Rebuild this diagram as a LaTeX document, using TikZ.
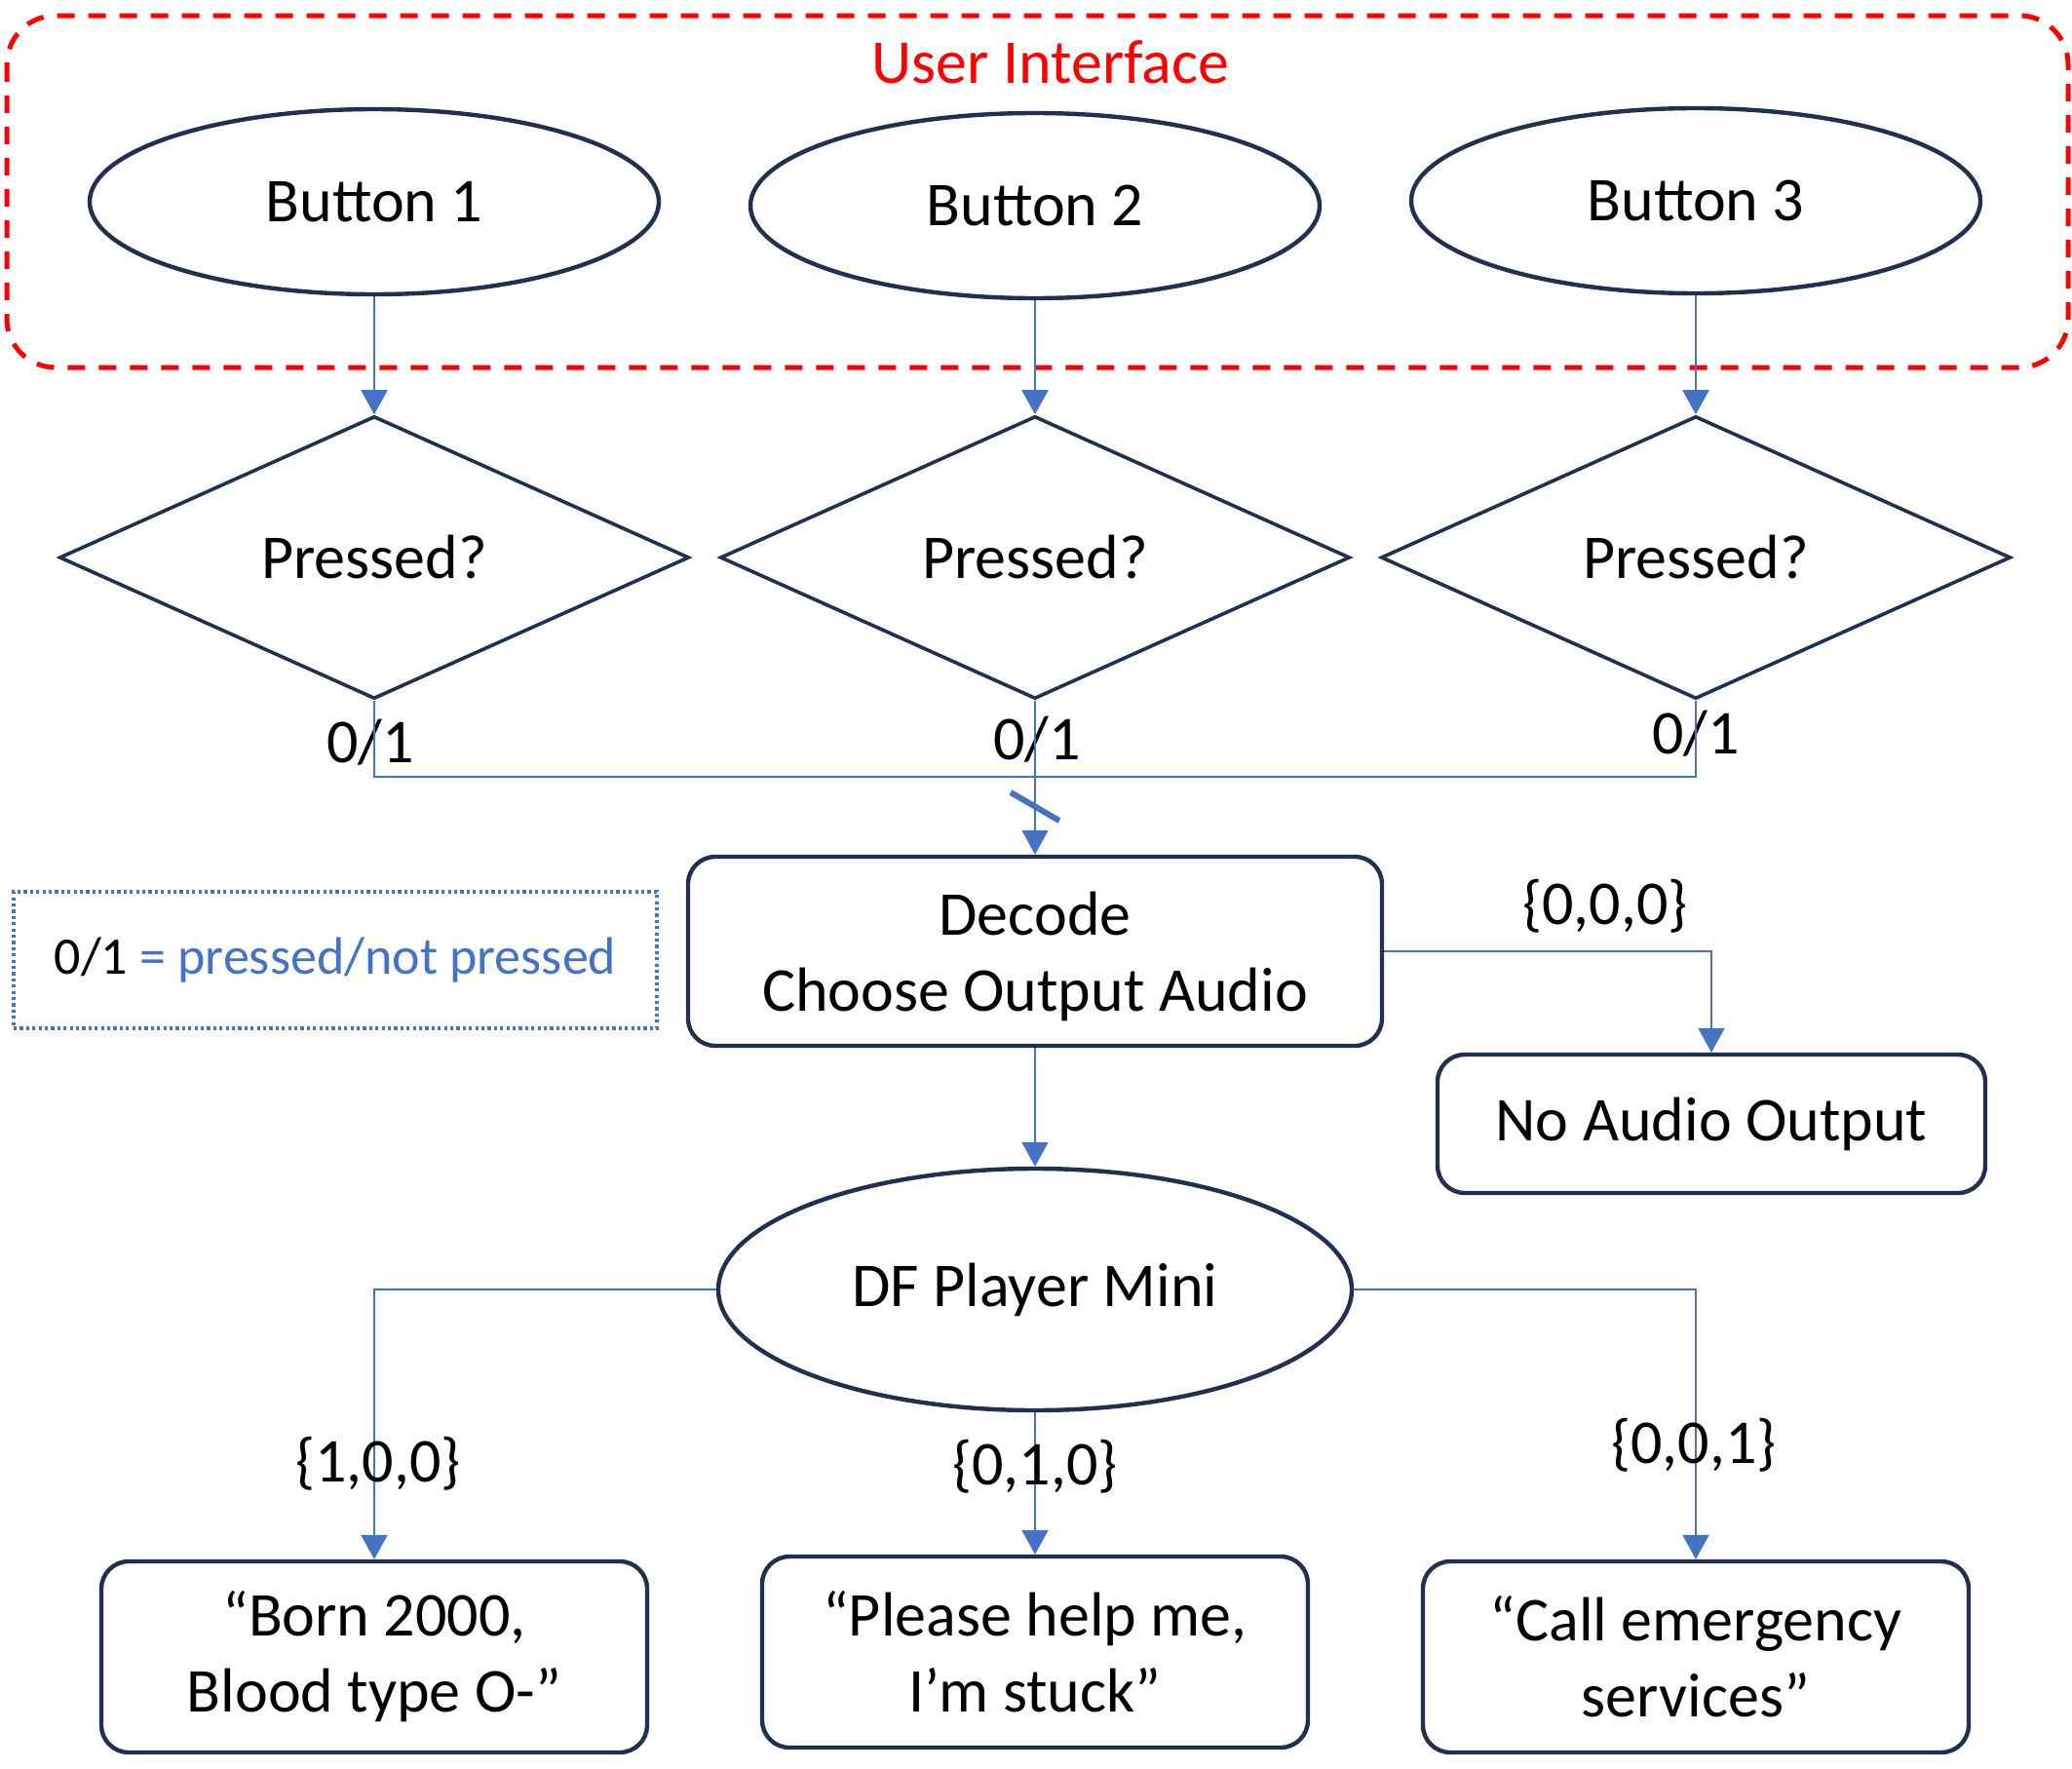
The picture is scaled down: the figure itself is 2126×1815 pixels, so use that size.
\documentclass[tikz,border=0pt]{standalone}
\usepackage{fontspec}
\setmainfont{Carlito}
\usetikzlibrary{shapes.geometric,arrows.meta}
\definecolor{navy}{HTML}{203050}
\definecolor{cblue}{HTML}{4472C4}
\definecolor{cred}{HTML}{FF0000}
\begin{document}
\begin{tikzpicture}[x=0.5pt,y=-0.5pt,
  txt/.style={font=\fontsize{32}{39}\selectfont, text=black, align=center},
  ell/.style={txt, draw=navy, line width=2.2pt, ellipse, inner sep=0pt},
  dia/.style={txt, draw=navy, line width=1.8pt, diamond, inner sep=0pt, minimum width=323pt, minimum height=145pt},
  rbox/.style={txt, draw=navy, line width=2.2pt, rounded corners=14pt, inner sep=0pt},
  conn/.style={draw=cblue, line width=1pt},
  arr/.style={conn, -{Triangle[width=13.5pt,length=12.5pt]}, cblue},
  lbl/.style={txt, inner sep=0pt},
  uibox/.style={draw=cred, line width=2.5pt, dash pattern=on 9pt off 7pt, rounded corners=25pt},
  legend/.style={draw=cblue, line width=1.6pt, dash pattern=on 1.6pt off 1.6pt, inner sep=0pt, font=\fontsize{27}{34}\selectfont}
]
\useasboundingbox (0,0) rectangle (2126,1815);

% user interface frame
\draw[uibox] (7,16) rectangle (2122,377);
\node[lbl, text=cred] (ui) at (1078,64) {User Interface};

% buttons
\node[ell, minimum width=292pt, minimum height=95pt] (b1) at (384,207) {Button 1};
\node[ell, minimum width=292pt, minimum height=95pt] (b2) at (1062,211) {Button 2};
\node[ell, minimum width=292pt, minimum height=95pt] (b3) at (1740,206) {Button 3};

% diamonds
\node[dia] (d1) at (384,572) {Pressed?};
\node[dia] (d2) at (1062,572) {Pressed?};
\node[dia] (d3) at (1740,572) {Pressed?};

\draw[arr] (b1.south) -- (d1.north);
\draw[arr] (b2.south) -- (d2.north);
\draw[arr] (b3.south) -- (d3.north);

% labels 0/1
\node[lbl] (l1) at (380,762) {0/1};
\node[lbl] (l2) at (1064,759) {0/1};
\node[lbl] (l3) at (1740,753) {0/1};

% decode box
\node[rbox, minimum width=356pt, minimum height=97pt] (dec) at (1062,976) {};
\node[lbl] (dect) at (1062,981) {Decode\\Choose Output Audio};

% bus
\coordinate (bus) at (1062,797);
\draw[conn] (d1.south) |- (bus) -| (d3.south);
\draw[arr] (d2.south) -- (dec.north);
\coordinate (sla) at (1037,813);
\coordinate (slb) at (1087,842);
\draw[draw=cblue, line width=3pt] (sla) -- (slb);

% legend
\node[legend, minimum width=330pt, minimum height=70pt] (leg) at (344,985) {0/1 \textcolor{cblue}{= pressed/not pressed}};

% no audio
\node[rbox, minimum width=281pt, minimum height=71pt] (noa) at (1756,1153) {No Audio Output};
\draw[arr] (dec.east) -| (noa.north);
\node[lbl] (l000) at (1647,930) {\{0,0,0\}};

% DF player
\node[ell, minimum width=325pt, minimum height=124pt] (df) at (1062,1323) {DF Player Mini};
\draw[arr] (dec.south) -- (df.north);

% bottom boxes
\node[rbox, minimum width=280pt, minimum height=98pt] (bl) at (384,1700) {“Born 2000,\\Blood type O-”};
\node[rbox, minimum width=280pt, minimum height=98pt] (bm) at (1062,1695) {“Please help me,\\I’m stuck”};
\node[rbox, minimum width=280pt, minimum height=98pt] (br) at (1740,1700) {“Call emergency\\services”};

\draw[arr] (df.west) -| (bl.north);
\draw[arr] (df.south) -- (bm.north);
\draw[arr] (df.east) -| (br.north);

\node[lbl] (l100) at (388,1502) {\{1,0,0\}};
\node[lbl] (l010) at (1062,1505) {\{0,1,0\}};
\node[lbl] (l001) at (1738,1483) {\{0,0,1\}};
\end{tikzpicture}
\end{document}
